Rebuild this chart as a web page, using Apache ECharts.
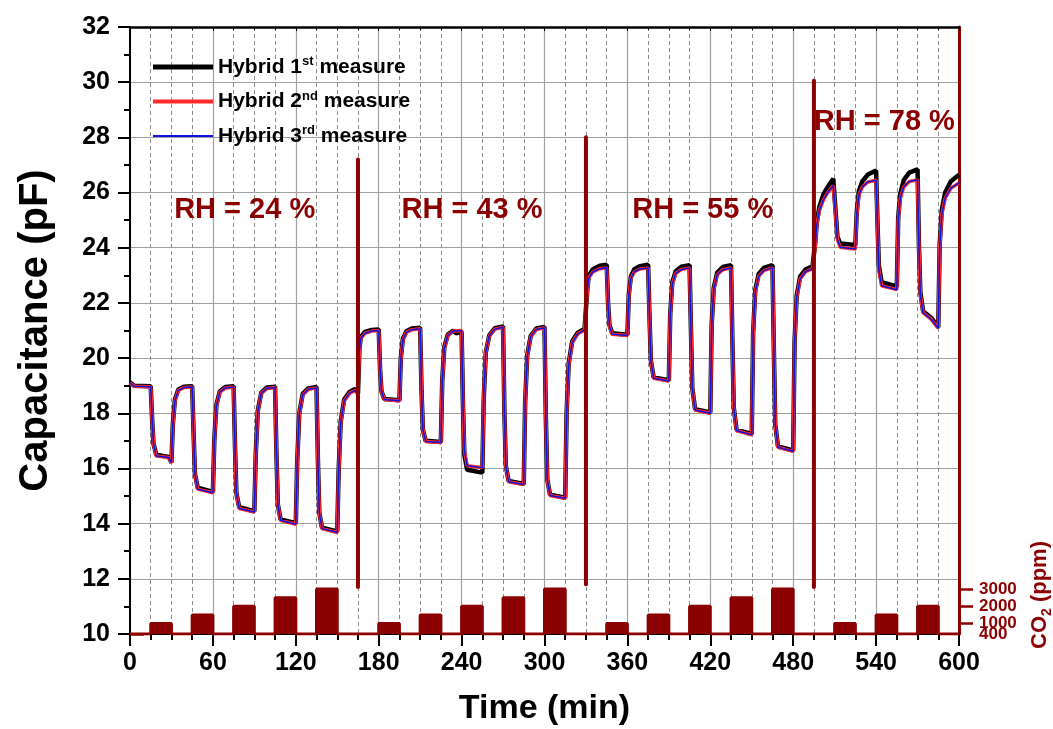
<!DOCTYPE html>
<html>
<head>
<meta charset="utf-8">
<script src="https://cdn.jsdelivr.net/npm/echarts@6/dist/echarts.min.js"></script>
<style>html,body{margin:0;padding:0;background:#fff}#c{width:1053px;height:729px}</style>
</head>
<body>
<div id="c"></div>
<script>
// ---- data ----
const timeMin = [
0,3,15,16,17,19,28,30,31,32.5,35,39,
45,46,47,49,60,61,62.5,65,69,
75,76,77,79,90,91,92.5,95,99,
105,106,107,109,120,121,122.5,125,129,
135,136,137,139,150,151,152.5,155,159,163,
165,166,167,170,175,
180,181,182,184,195,196,197.5,200,204,
210,211,212,214,225,226,227.5,230,234,236,
240,241,242,244,255,256,257.5,260,264,
270,271,272,274,285,286,287.5,290,294,
300,301,302,304,315,316,317.5,320,324,329,
330,331,332,335,340,
345,346,347,349,360,361,362.5,365,369,
375,376,377,379,390,391,392.5,395,399,
405,406,407,409,420,421,422.5,425,429,
435,436,437,439,450,451,452.5,455,459,
465,466,467,469,480,481,482.5,485,489,494,
495,496,497,499,502,505,509,
510,511,512,514,525,526,527.5,530,534,
540,541,542,544,555,556,557.5,560,564,
570,571,572,574,580,585,586,587.5,590,594,600
];
const cap1st = [
19.12,19.00,18.98,17.80,16.90,16.50,16.42,16.22,17.60,18.50,18.86,18.96,
18.98,17.30,15.80,15.30,15.15,17.00,18.30,18.80,18.95,
18.98,16.80,15.10,14.60,14.45,16.50,18.10,18.75,18.93,
18.96,16.50,14.70,14.15,14.02,16.20,18.00,18.70,18.90,
18.95,16.30,14.40,13.85,13.72,15.90,17.70,18.50,18.78,18.88,
18.72,20.30,20.75,20.95,21.02,
21.04,19.60,18.80,18.52,18.47,20.00,20.70,20.97,21.07,
21.10,18.80,17.40,17.00,16.96,19.20,20.40,20.85,21.00,20.90,
20.95,18.30,16.50,15.95,15.85,18.50,20.20,20.82,21.08,
21.15,18.00,16.10,15.55,15.44,18.40,20.10,20.80,21.07,
21.13,17.80,15.60,15.05,14.94,18.00,19.80,20.60,20.92,21.06,
21.08,22.50,22.98,23.22,23.35,
23.38,22.00,21.20,20.90,20.85,22.30,22.95,23.22,23.33,
23.38,21.50,19.90,19.30,19.20,21.60,22.75,23.15,23.31,
23.37,21.00,18.90,18.15,18.03,21.20,22.55,23.10,23.30,
23.37,20.60,18.20,17.40,17.25,20.90,22.45,23.05,23.28,
23.37,20.30,17.60,16.80,16.65,20.60,22.25,22.95,23.22,23.33,
23.35,24.20,24.90,25.50,25.95,26.20,26.50,
26.55,25.10,24.40,24.15,24.10,25.30,26.05,26.40,26.65,
26.80,24.90,23.35,22.75,22.60,25.10,25.95,26.45,26.72,
26.84,24.10,22.40,21.70,21.45,21.12,24.10,25.35,26.00,26.40,26.65
];
const cap2nd = [
19.10,18.98,18.96,17.80,16.90,16.45,16.40,16.20,17.55,18.45,18.83,18.93,
18.95,17.30,15.80,15.25,15.12,16.95,18.25,18.77,18.92,
18.95,16.80,15.10,14.55,14.42,16.45,18.05,18.72,18.90,
18.93,16.50,14.70,14.12,13.98,16.15,17.95,18.66,18.87,
18.92,16.30,14.40,13.82,13.68,15.85,17.65,18.45,18.73,18.83,
18.68,20.25,20.70,20.90,20.98,
21.00,19.60,18.80,18.50,18.45,19.95,20.65,20.93,21.03,
21.06,18.80,17.40,16.98,16.94,19.15,20.35,20.82,20.98,20.98,
21.00,18.30,16.65,16.10,16.03,18.60,20.20,20.80,21.05,
21.12,18.00,16.10,15.52,15.42,18.35,20.05,20.77,21.04,
21.10,17.80,15.60,15.02,14.92,17.95,19.75,20.55,20.88,21.02,
21.04,22.45,22.90,23.12,23.24,
23.27,21.95,21.15,20.86,20.82,22.25,22.88,23.13,23.23,
23.27,21.50,19.90,19.27,19.17,21.55,22.68,23.07,23.21,
23.27,21.00,18.90,18.12,18.00,21.15,22.48,23.02,23.20,
23.27,20.60,18.20,17.37,17.22,20.85,22.38,22.97,23.18,
23.27,20.30,17.60,16.77,16.62,20.55,22.18,22.87,23.13,23.24,
23.26,24.10,24.80,25.35,25.75,26.00,26.25,
26.30,25.00,24.30,24.02,23.95,25.20,25.90,26.20,26.38,
26.45,24.80,23.20,22.62,22.48,25.00,25.80,26.20,26.40,
26.46,24.00,22.30,21.65,21.40,21.08,24.00,25.20,25.80,26.15,26.35
];
const cap3rd = [
19.10,18.98,18.96,17.80,16.90,16.45,16.40,16.20,17.55,18.45,18.83,18.93,
18.95,17.30,15.80,15.25,15.12,16.95,18.25,18.77,18.92,
18.95,16.80,15.10,14.55,14.42,16.45,18.05,18.72,18.90,
18.93,16.50,14.70,14.12,13.98,16.15,17.95,18.66,18.87,
18.92,16.30,14.40,13.82,13.68,15.85,17.65,18.45,18.73,18.83,
18.68,20.25,20.70,20.90,20.98,
21.00,19.60,18.80,18.50,18.45,19.95,20.65,20.93,21.03,
21.06,18.80,17.40,16.98,16.94,19.15,20.35,20.82,20.98,20.98,
21.00,18.30,16.65,16.10,16.03,18.60,20.20,20.80,21.05,
21.12,18.00,16.10,15.52,15.42,18.35,20.05,20.77,21.04,
21.10,17.80,15.60,15.02,14.92,17.95,19.75,20.55,20.88,21.02,
21.04,22.45,22.90,23.12,23.24,
23.27,21.95,21.15,20.86,20.82,22.25,22.88,23.13,23.23,
23.27,21.50,19.90,19.27,19.17,21.55,22.68,23.07,23.21,
23.27,21.00,18.90,18.12,18.00,21.15,22.48,23.02,23.20,
23.27,20.60,18.20,17.37,17.22,20.85,22.38,22.97,23.18,
23.27,20.30,17.60,16.77,16.62,20.55,22.18,22.87,23.13,23.24,
23.26,24.10,24.80,25.35,25.75,26.00,26.25,
26.30,25.00,24.30,24.02,23.95,25.20,25.90,26.20,26.38,
26.45,24.80,23.20,22.62,22.48,25.00,25.80,26.20,26.40,
26.46,24.00,22.30,21.65,21.40,21.08,24.00,25.20,25.80,26.15,26.35
];
const seriesNames = ['Hybrid 1st measure', 'Hybrid 2nd measure', 'Hybrid 3rd measure'];

// CO2 pulse profile (step values, ppm)
const co2Time = [0,15,30,45,60,75,90,105,120,135,150,
  180,195,210,225,240,255,270,285,300,315,
  345,360,375,390,405,420,435,450,465,480,
  510,525,540,555,570,585,600];
const co2Ppm = [400,1000,400,1500,400,2000,400,2500,400,3000,400,
  1000,400,1500,400,2000,400,2500,400,3000,400,
  1000,400,1500,400,2000,400,2500,400,3000,400,
  1000,400,1500,400,2000,400,400];
const co2TickValues = [1000, 2000, 3000];
const co2BaseTick = [400];

// RH change markers
const rhChangeTime = [165, 330, 495];
const rhLineBottom = [11.7, 11.8, 11.7];
const rhLineTop = [27.2, 28.0, 30.05];
const rhLabelText = ['RH = 24 %', 'RH = 43 %', 'RH = 55 %', 'RH = 78 %'];
const rhLabelTime = [83, 247.5, 414.5, 546];
const rhLabelCap = [25.35, 25.37, 25.37, 28.54];

// ---- chart ----
const FONT = "'Liberation Sans', Arial, Helvetica, sans-serif";
const DARKRED = '#8B0000';
const zip = (a, b) => a.map((v, i) => [v, b[i]]);

const capColors = ['#000000', '#ff2a2a', '#1010e0'];
const capWidths = [4.5, 3.5, 1.5];
const legendIcons = [
  'path://M0,0 M0,14 M0,4.5 H60 V9.5 H0 Z',
  'path://M0,0 M0,14 M0,5 H60 V9 H0 Z',
  'path://M0,0 M0,14 M0,6 H60 V8 H0 Z'
];
const capData = [cap1st, cap2nd, cap3rd];

const series = [];
series.push({
  name: 'CO2', type: 'line', xAxisIndex: 0, yAxisIndex: 1,
  step: 'end', symbol: 'none', silent: true,
  data: zip(co2Time, co2Ppm),
  lineStyle: { color: DARKRED, width: 3 },
  itemStyle: { color: DARKRED },
  areaStyle: { color: DARKRED, opacity: 1, origin: 'start' },
  z: 3
});
capData.forEach((d, i) => {
  series.push({
    name: seriesNames[i], type: 'line', xAxisIndex: 0, yAxisIndex: 0,
    symbol: 'none', data: zip(timeMin, d),
    lineStyle: { color: capColors[i], width: capWidths[i] },
    itemStyle: { color: capColors[i] },
    z: 4 + i
  });
});
rhChangeTime.forEach((t, i) => {
  series.push({
    name: 'RH' + i, type: 'line', xAxisIndex: 0, yAxisIndex: 0,
    symbol: 'none', silent: true,
    data: [[t, rhLineBottom[i]], [t, rhLineTop[i]]],
    lineStyle: { color: DARKRED, width: 4, cap: 'round' },
    z: 8
  });
});
series.push({
  name: 'RH labels', type: 'scatter', xAxisIndex: 0, yAxisIndex: 0,
  symbolSize: 1, silent: true,
  itemStyle: { color: 'rgba(0,0,0,0)', opacity: 1 },
  data: zip(rhLabelTime, rhLabelCap),
  label: {
    show: true, position: 'inside',
    formatter: p => rhLabelText[p.dataIndex],
    fontFamily: FONT, fontWeight: 'bold', fontSize: 29, color: DARKRED,
    textBorderWidth: 0, textShadowBlur: 0
  },
  z: 9
});

const option = {
  animation: false,
  backgroundColor: '#ffffff',
  grid: { left: 130, right: 94, top: 27, bottom: 95, outerBoundsMode: 'none', containLabel: false },
  legend: {
    data: seriesNames.map((n, i) => ({ name: n, icon: legendIcons[i] })),
    orient: 'vertical', left: 148, top: 50,
    itemWidth: 60, itemHeight: 14, itemGap: 12,
    selectedMode: false,
    formatter: name => {
      const m = name.match(/^(Hybrid \d)(st|nd|rd)( measure)$/);
      return '{t|' + m[1] + '}{s|' + m[2] + '}{t|' + m[3] + '}';
    },
    textStyle: {
      fontFamily: FONT, fontWeight: 'bold', fontSize: 21, color: '#000',
      rich: {
        t: { fontFamily: FONT, fontWeight: 'bold', fontSize: 21, color: '#000', lineHeight: 24 },
        s: { fontFamily: FONT, fontWeight: 'bold', fontSize: 13, color: '#000', verticalAlign: 'top', lineHeight: 12 }
      }
    }
  },
  xAxis: [{
    type: 'value', min: 0, max: 600, interval: 60, position: 'bottom',
    name: 'Time (min)', nameLocation: 'middle', nameGap: 58,
    nameTextStyle: { fontFamily: FONT, fontWeight: 'bold', fontSize: 34, color: '#000' },
    axisLine: { show: true, onZero: false, lineStyle: { color: '#000', width: 2 } },
    axisTick: { show: true, inside: false, length: 12, lineStyle: { color: '#000', width: 2 } },
    minorTick: { show: true, splitNumber: 4, length: 6, lineStyle: { color: '#000', width: 2 } },
    axisLabel: { fontFamily: FONT, fontWeight: 'bold', fontSize: 25, color: '#000', margin: 17 },
    splitLine: { show: true, lineStyle: { color: '#a0a0a0', width: 1.2 } },
    minorSplitLine: { show: true, lineStyle: { color: '#8c8c8c', width: 1, type: [4, 3] } }
  }, {
    type: 'value', show: true, min: 0, max: 600, interval: 60, position: 'top',
    axisLine: { show: true, onZero: false, lineStyle: { color: '#000', width: 2.5 } },
    axisTick: { show: true, inside: true, length: 4, lineStyle: { color: '#000', width: 1 } },
    minorTick: { show: true, splitNumber: 4, length: 3, lineStyle: { color: '#000', width: 1 } },
    axisLabel: { show: false },
    splitLine: { show: false }
  }],
  yAxis: [{
    type: 'value', min: 10, max: 32, interval: 2, position: 'left',
    name: 'Capacitance (pF)', nameLocation: 'middle', nameGap: 74, nameRotate: 90,
    nameTextStyle: { fontFamily: FONT, fontWeight: 'bold', fontSize: 40, color: '#000' },
    axisLine: { show: true, onZero: false, lineStyle: { color: '#000', width: 2 } },
    axisTick: { show: true, inside: false, length: 12, lineStyle: { color: '#000', width: 2 } },
    minorTick: { show: true, splitNumber: 2, length: 6, lineStyle: { color: '#000', width: 2 } },
    axisLabel: { fontFamily: FONT, fontWeight: 'bold', fontSize: 25, color: '#000', margin: 20 },
    splitLine: { show: true, lineStyle: { color: '#a0a0a0', width: 1.2 } }
  }, {
    type: 'value', min: 400, max: 35470, position: 'right',
    axisLine: { show: true, onZero: false, lineStyle: { color: DARKRED, width: 3 } },
    axisTick: { show: true, inside: false, length: 14, customValues: co2TickValues, lineStyle: { color: DARKRED, width: 2.5 } },
    axisLabel: {
      show: true, customValues: co2TickValues, hideOverlap: false,
      formatter: v => String(v),
      fontFamily: FONT, fontWeight: 'bold', fontSize: 17, color: DARKRED, margin: 20
    },
    splitLine: { show: false }
  }, {
    type: 'value', min: 400, max: 35470, position: 'right', offset: 0,
    axisLine: { show: false },
    axisTick: { show: true, inside: false, length: 14, customValues: co2BaseTick, lineStyle: { color: DARKRED, width: 2.5 } },
    axisLabel: {
      show: true, customValues: co2BaseTick, showMinLabel: true,
      formatter: v => String(v),
      fontFamily: FONT, fontWeight: 'bold', fontSize: 17, color: DARKRED, margin: 20
    },
    splitLine: { show: false }
  }],
  graphic: [{
    type: 'text', x: 1040, y: 595, rotation: Math.PI / 2, z: 10,
    style: {
      text: '{a|CO}{b|2}{a| (ppm)}',
      align: 'center', verticalAlign: 'middle',
      textAlign: 'center', textVerticalAlign: 'middle',
      fill: DARKRED,
      rich: {
        a: { fontFamily: FONT, fontWeight: 'bold', fontSize: 22, fill: DARKRED, color: DARKRED, lineHeight: 28 },
        b: { fontFamily: FONT, fontWeight: 'bold', fontSize: 14, fill: DARKRED, color: DARKRED, verticalAlign: 'bottom', lineHeight: 14 }
      }
    }
  }],
  series: series
};
const chart = echarts.init(document.getElementById('c'));
chart.setOption(option);
</script>
</body>
</html>
